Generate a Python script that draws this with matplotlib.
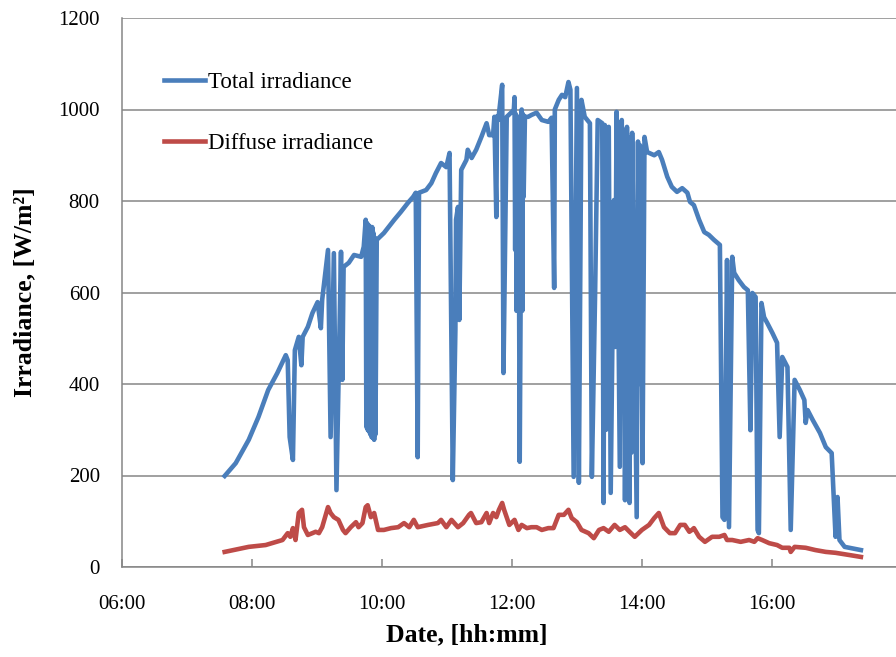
import matplotlib
matplotlib.use("Agg")
import matplotlib.pyplot as plt
from matplotlib.ticker import FixedLocator, FuncFormatter

plt.rcParams["font.family"] = ["Liberation Serif", "DejaVu Serif"]

# time of day in decimal hours, irradiance in W/m2
t_total = [7.58, 7.75, 7.95, 8.10, 8.25, 8.39, 8.47, 8.52, 8.55, 8.58, 8.63, 8.66,
           8.72, 8.76, 8.78, 8.86, 8.93, 9.01, 9.06, 9.08, 9.17, 9.21, 9.26, 9.30,
           9.37, 9.39, 9.41, 9.49, 9.57, 9.68, 9.72, 9.75, 9.76, 9.77, 9.78, 9.79,
           9.80, 9.81, 9.82, 9.83, 9.84, 9.85, 9.86, 9.87, 9.88, 9.89, 9.90, 9.92,
           10.03, 10.19, 10.29, 10.40, 10.48, 10.52, 10.55, 10.57, 10.68,
           10.76, 10.83, 10.91, 10.99, 11.04, 11.09, 11.13, 11.14, 11.17, 11.19,
           11.22, 11.30, 11.32, 11.38, 11.45, 11.53, 11.61, 11.65, 11.71, 11.73,
           11.76, 11.77, 11.79, 11.85, 11.87, 11.92, 11.95, 12.00, 12.03, 12.04,
           12.05, 12.06, 12.07, 12.08, 12.09, 12.10, 12.12, 12.15, 12.16, 12.17,
           12.18, 12.20, 12.25, 12.30, 12.38, 12.46, 12.56, 12.61, 12.65,
           12.66, 12.72, 12.77, 12.82, 12.87, 12.90, 12.95, 13.00, 13.03, 13.07,
           13.12, 13.20, 13.23, 13.28, 13.32, 13.39, 13.41, 13.43, 13.45, 13.47,
           13.49, 13.52, 13.57, 13.59, 13.61, 13.66, 13.69, 13.71, 13.72, 13.74,
           13.77, 13.81, 13.83, 13.84, 13.85, 13.92, 13.94, 13.95, 13.97, 14.01,
           14.04, 14.08, 14.19, 14.26, 14.31, 14.39, 14.46, 14.54,
           14.62, 14.70, 14.74, 14.80, 14.88, 14.96, 15.03, 15.11, 15.20, 15.24,
           15.27, 15.31, 15.34, 15.39, 15.42, 15.49, 15.57, 15.63, 15.67, 15.70,
           15.75, 15.78, 15.80, 15.84, 15.88, 15.93, 16.01, 16.08, 16.12, 16.16,
           16.24, 16.29, 16.35, 16.43, 16.50, 16.52, 16.55, 16.63, 16.74, 16.83,
           16.92, 16.98, 17.01, 17.04, 17.12, 17.37]
total = [199, 227, 278, 328, 387, 424, 448, 463, 452, 284, 234, 474,
         503, 441, 503, 525, 555, 579, 522, 584, 693, 284, 686, 168,
         689, 409, 656, 665, 682, 678, 700, 759, 306, 752, 300, 748,
         296, 745, 290, 740, 284, 743, 282, 730, 278, 720, 290, 715,
         730, 759, 776, 796, 809, 818, 240, 818, 824,
         839, 861, 883, 874, 905, 190, 518, 759, 787, 540,
         868, 890, 912, 894, 912, 940, 970, 944, 944, 984,
         765, 985, 977, 1054, 424, 984, 988, 995, 1000, 1027,
         693, 990, 560, 985, 700, 980, 230, 1000, 560, 990,
         809, 984, 984, 988, 993, 977, 973, 982, 610,
         1000, 1021, 1032, 1027, 1060, 1043, 197, 1047, 184, 1021,
         984, 970, 197, 599, 977, 970, 140, 966, 300, 960,
         962, 162, 802, 481, 995, 219, 977, 480, 955, 146,
         962, 140, 940, 250, 949, 109, 930, 400, 922, 227,
         940, 907, 900, 907, 890, 853, 831, 820,
         828, 818, 798, 791, 759, 732, 726, 715, 704, 109,
         103, 671, 87, 678, 643, 627, 612, 605, 299, 599,
         590, 81, 74, 577, 546, 533, 511, 490, 284, 459,
         437, 81, 409, 387, 365, 315, 343, 321, 293, 262,
         249, 66, 153, 59, 44, 37]

t_diffuse = [7.58, 7.95, 8.21, 8.47, 8.55, 8.59, 8.63, 8.67, 8.72, 8.77, 8.80, 8.86,
             8.93, 8.98, 9.03, 9.08, 9.17, 9.21, 9.26, 9.33, 9.40, 9.44, 9.52, 9.60,
             9.64, 9.70, 9.75, 9.78, 9.83, 9.88, 9.94, 10.03, 10.14, 10.25, 10.34,
             10.42, 10.49, 10.55, 10.71, 10.86, 10.91, 10.99, 11.07, 11.17, 11.25,
             11.34, 11.37, 11.45, 11.53, 11.61, 11.65, 11.71, 11.76, 11.80, 11.85,
             11.88, 11.96, 12.04, 12.10, 12.15, 12.23, 12.30, 12.38, 12.46, 12.56,
             12.64, 12.72, 12.80, 12.87, 12.92, 13.00, 13.07, 13.18, 13.26, 13.34,
             13.41, 13.49, 13.58, 13.66, 13.74, 13.81, 13.89, 14.00, 14.11, 14.19,
             14.26, 14.34, 14.43, 14.51, 14.59, 14.66, 14.73, 14.77, 14.80, 14.88,
             14.97, 15.08, 15.19, 15.27, 15.31, 15.39, 15.52, 15.65, 15.73, 15.78,
             15.85, 15.96, 16.08, 16.16, 16.27, 16.29, 16.35, 16.52, 16.67, 16.83,
             16.98, 17.20, 17.37]
diffuse = [33, 44, 48, 59, 74, 66, 85, 59, 118, 125, 87, 70,
           74, 77, 74, 87, 131, 118, 109, 103, 81, 74, 87, 98,
           87, 96, 131, 135, 109, 118, 81, 81, 85, 87, 96,
           87, 103, 87, 92, 96, 103, 87, 103, 87, 96,
           114, 118, 96, 98, 118, 96, 118, 109, 125, 140,
           125, 92, 103, 81, 92, 85, 87, 87, 81, 85,
           85, 114, 114, 125, 107, 98, 81, 74, 63, 81,
           85, 77, 92, 81, 87, 77, 66, 81, 92, 107,
           118, 87, 74, 74, 92, 92, 77, 81, 85, 66,
           55, 66, 66, 70, 59, 59, 55, 59, 55, 63,
           59, 52, 48, 42, 42, 33, 44, 42, 37, 33,
           31, 26, 22]

hour_ticks = [6, 8, 10, 12, 14, 16, 18]
y_ticks = [0, 200, 400, 600, 800, 1000, 1200]

grey = "#868686"

fig = plt.figure(figsize=(8.96, 6.57), dpi=100)
ax = fig.add_axes([122 / 896, 90 / 657, 1 - 122 / 896, 549 / 657])

ax.plot(t_total, total, color="#4A7EBB", lw=3.3, solid_joinstyle="round",
        label="Total irradiance")
ax.plot(t_diffuse, diffuse, color="#BE4B48", lw=3.3, solid_joinstyle="round",
        label="Diffuse irradiance")

ax.set_xlim(6, 17.91)
ax.set_ylim(0, 1200)
ax.xaxis.set_major_locator(FixedLocator(hour_ticks))
ax.xaxis.set_major_formatter(FuncFormatter(lambda v, p: "%02d:00" % int(round(v))))
ax.set_yticks(y_ticks)

ax.grid(axis="y", color=grey, lw=1.1)
ax.set_axisbelow(True)
for s in ["top", "right"]:
    ax.spines[s].set_visible(False)
for s in ["left", "bottom"]:
    ax.spines[s].set_color(grey)
    ax.spines[s].set_linewidth(1.1)

ax.tick_params(axis="x", direction="in", length=6, width=1.1, color=grey,
               pad=20, labelsize=15)
ax.tick_params(axis="y", length=0, pad=16, labelsize=15)

ax.set_xlabel("Date, [hh:mm]", fontsize=18.5, fontweight="bold")
ax.xaxis.set_label_coords((467 - 122) / 774, (567 - 623) / 549)
ax.set_ylabel("Irradiance, [W/m²]", fontsize=18.5, fontweight="bold")
ax.yaxis.set_label_coords((36 - 122) / 774, 0.5)

ax.legend(loc="upper left", bbox_to_anchor=(0.054, 0.902), frameon=False,
          fontsize=16.5, handlelength=1.8, handletextpad=0.15,
          labelspacing=1.75, borderpad=0, borderaxespad=0)

fig.savefig("out.png", dpi=100)
